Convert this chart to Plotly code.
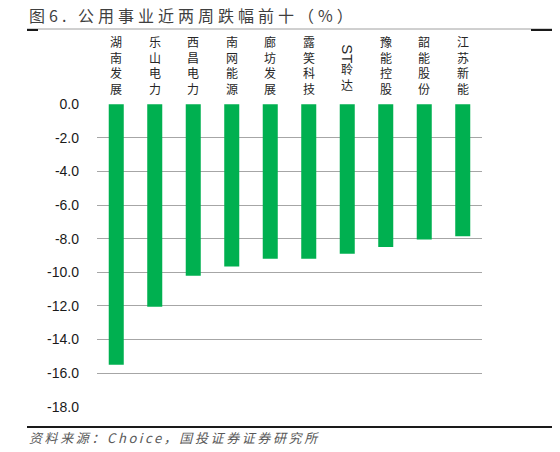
import re
import plotly.graph_objects as go

# ---------------- data ----------------
categories = ["湖南发展", "乐山电力", "西昌电力", "南网能源", "廊坊发展",
              "露笑科技", "ST聆达", "豫能控股", "韶能股份", "江苏新能"]
values = [-15.5, -12.05, -10.2, -9.65, -9.2, -9.2, -8.9, -8.5, -8.05, -7.85]
y_ticks = [0, -2, -4, -6, -8, -10, -12, -14, -16, -18]
y_tick_labels = [f"{v:.1f}" for v in y_ticks]
title_text = "图6. 公用事业近两周跌幅前十（%）"
source_text = "资料来源：Choice，国投证券证券研究所"

# ---------------- layout geometry ----------------
# the page body has an 8px default margin, so the figure is drawn 8px smaller
OFF = 8
W, H = 560 - OFF, 452 - OFF
ML, MR, MT, MB = 97 - OFF, 78, 104 - OFF, 45
PW, PH = W - ML - MR, H - MT - MB

def px(x):  # reference pixel x -> paper x
    return (x - OFF - ML) / PW

def py(y):  # reference pixel y -> paper y
    return (H - MB - (y - OFF)) / PH

CJK = "Noto Sans CJK SC"
GREEN = "#00b050"
GRID = "#a6a6a6"

fig = go.Figure(go.Bar(
    x=categories, y=values, marker=dict(color=GREEN, line=dict(width=0)),
    width=0.39, hoverinfo="x+y",
))

annotations = []
for cat in categories:
    m = re.match(r"[A-Za-z*]+", cat)
    if m:
        latin = m.group(0)
        rest = cat[len(latin):]
        annotations.append(dict(
            x=cat, xref="x", y=py(95), yref="paper", yanchor="bottom",
            text="<br>".join(rest), showarrow=False,
            font=dict(family=CJK, size=12, color="#262626"),
        ))
        annotations.append(dict(
            x=cat, xref="x", y=py(65), yref="paper", yanchor="bottom",
            text=latin, textangle=90, showarrow=False,
            font=dict(family="Liberation Sans", size=15, color="#262626"),
        ))
    else:
        annotations.append(dict(
            x=cat, xref="x", y=py(99), yref="paper", yanchor="bottom",
            text="<br>".join(cat), showarrow=False,
            font=dict(family=CJK, size=12, color="#262626"),
        ))

annotations.append(dict(
    x=px(27), xref="paper", y=py(437), yref="paper",
    xanchor="left", yanchor="middle", showarrow=False,
    text=f'<i><span style="letter-spacing:2.6px">{source_text}</span></i>',
    font=dict(family=CJK, size=13, color="#595959"),
))

shapes = [
    dict(type="line", xref="paper", yref="paper", x0=px(27), x1=px(555),
         y0=py(29), y1=py(29), line=dict(color="#a0a0a0", width=1)),
    dict(type="line", xref="paper", yref="paper", x0=px(27), x1=px(38),
         y0=py(30), y1=py(30), line=dict(color="#1a1a1a", width=2)),
    dict(type="line", xref="paper", yref="paper", x0=px(531), x1=px(555),
         y0=py(30), y1=py(30), line=dict(color="#1a1a1a", width=2)),
    dict(type="line", xref="paper", yref="paper", x0=px(27), x1=px(555),
         y0=py(427), y1=py(427), line=dict(color="#1a1a1a", width=2)),
]

fig.update_layout(
    width=W, height=H,
    margin=dict(l=ML, r=MR, t=MT, b=MB, pad=0),
    paper_bgcolor="white", plot_bgcolor="white",
    showlegend=False,
    title=dict(
        text=f'<span style="letter-spacing:4px">{title_text}</span>',
        x=(29 - OFF) / W, xref="container", xanchor="left",
        y=1 - (16 - OFF) / H, yref="container", yanchor="middle",
        font=dict(family=CJK, size=16, color="#3f3f3f"),
    ),
    xaxis=dict(showticklabels=False, showgrid=False, zeroline=False,
               showline=False, ticks=""),
    yaxis=dict(range=[-18.02, 0.02], tickvals=y_ticks, ticktext=y_tick_labels,
               showgrid=True, gridcolor=GRID, gridwidth=1.3, zeroline=False,
               showline=False, ticks="", ticklabelstandoff=17,
               tickfont=dict(family="Liberation Sans", size=14, color="#1a1a1a")),
    annotations=annotations,
    shapes=shapes,
)

fig.write_html("out.html")
